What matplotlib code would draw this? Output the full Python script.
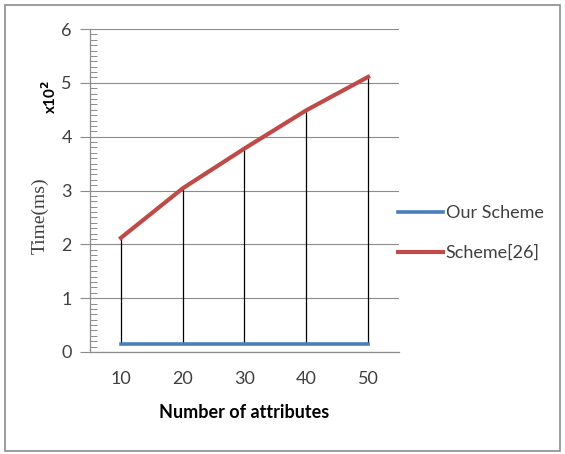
import numpy as np
import matplotlib
matplotlib.use("Agg")
import matplotlib.pyplot as plt
from matplotlib.ticker import MultipleLocator
from matplotlib.patches import Rectangle

attributes = [10, 20, 30, 40, 50]
our_scheme = [0.14, 0.14, 0.14, 0.14, 0.14]
scheme26 = [2.12, 3.04, 3.78, 4.49, 5.11]

blue = '#4A7EBB'
red = '#BE4B48'
grid_c = '#8C8C8C'
txt_c = '#404040'

fig = plt.figure(figsize=(5.65, 4.54), dpi=100)
ax = fig.add_axes([90/565, 1-352/454, 309/565, 323/454])

# high-low lines between the two series
ax.vlines(attributes, our_scheme, scheme26, color='black', lw=0.9, zorder=2)
ax.plot(attributes, our_scheme, color=blue, lw=2.6, label='Our Scheme', zorder=3)
ax.plot(attributes, scheme26, color=red, lw=3.0, label='Scheme[26]', zorder=3)

ax.set_xlim(5, 55)
ax.set_ylim(0, 6)
ax.set_xticks(attributes)
ax.yaxis.set_major_locator(MultipleLocator(1))
ax.yaxis.set_minor_locator(MultipleLocator(0.1))
ax.grid(axis='y', color=grid_c, lw=0.8)
ax.set_axisbelow(True)

for s in ['top', 'right']:
    ax.spines[s].set_visible(False)
for s in ['left', 'bottom']:
    ax.spines[s].set_color(grid_c)
    ax.spines[s].set_linewidth(0.9)

ax.tick_params(axis='y', which='major', direction='out', length=7, color=grid_c,
               labelsize=13, labelcolor=txt_c, pad=6)
ax.tick_params(axis='y', which='minor', direction='in', length=5, color=grid_c, width=0.7)
ax.tick_params(axis='x', length=0, labelsize=13, labelcolor=txt_c, pad=14)
for lab in ax.get_xticklabels() + ax.get_yticklabels():
    lab.set_family('Lato')

ax.set_xlabel('Number of attributes', fontsize=13, fontweight='bold',
              family='Lato', labelpad=12, color='black')
fig.text(40/565, 1-216/454, 'Time(ms)', rotation=90, family='Liberation Serif',
         fontsize=14, ha='center', va='center', color=txt_c)
fig.text(50/565, 1-97/454, r'x10$^{\mathbf{2}}$', rotation=90, family='Lato',
         fontsize=11, fontweight='bold', ha='center', va='center')

leg = ax.legend(loc='upper left', bbox_to_anchor=(398/565, 1-205/454),
                bbox_transform=fig.transFigure, frameon=False,
                handlelength=2.5, handletextpad=0.15, labelspacing=1.32,
                prop={'family': 'Lato', 'size': 13}, borderaxespad=0, borderpad=0)
for t in leg.get_texts():
    t.set_color(txt_c)

fig.patches.append(Rectangle((5/565, 3/454), 555/565, 446/454, transform=fig.transFigure,
                             fill=False, edgecolor='#8C8C8C', lw=1.2))

fig.savefig('out.png', dpi=100)
